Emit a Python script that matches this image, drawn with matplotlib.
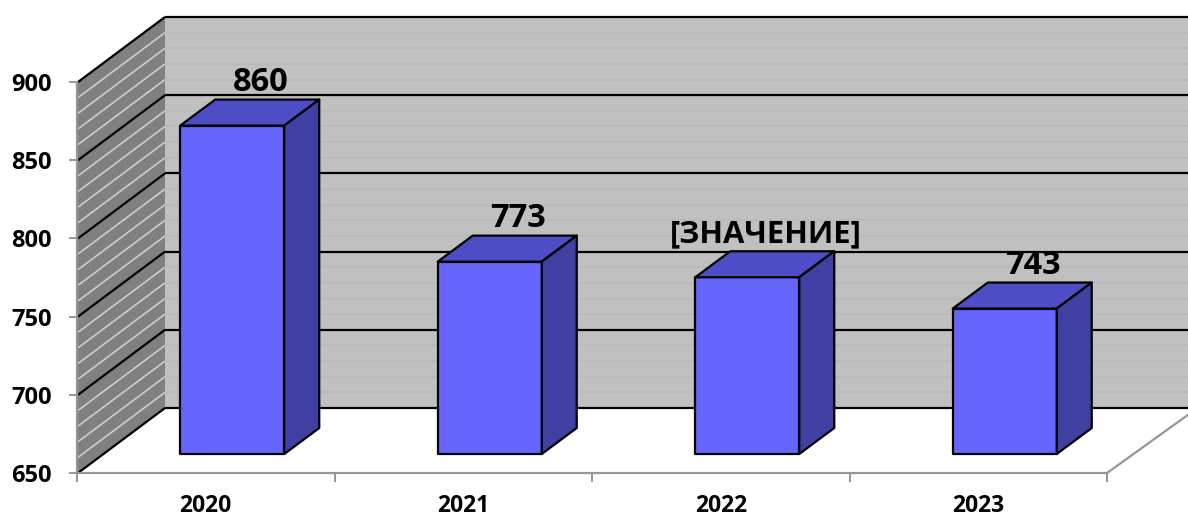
import matplotlib
matplotlib.use("Agg")
import matplotlib.pyplot as plt
from matplotlib.patches import Polygon

plt.rcParams['font.family'] = ['Open Sans', 'DejaVu Sans']

# data
years = ["2020", "2021", "2022", "2023"]
values = [860, 773, 763, 743]
labels = ["860", "773", "[ЗНАЧЕНИЕ]", "743"]
y_ticks = [650, 700, 750, 800, 850, 900]
minor_ticks = [v for v in range(650, 901, 10) if v % 50 != 0]

W, H = 1188, 517
fig = plt.figure(figsize=(W / 100, H / 100), dpi=100)
ax = fig.add_axes([77 / W, 1 - 473 / H, (1107 - 77) / W, (473 - 82) / H])
ax.set_xlim(0, 4)
ax.set_ylim(650, 900)
ax.patch.set_visible(False)

# depth of the walls and bars, in data units
px_x = 4 / (1107 - 77)
px_y = 250 / (473 - 82)
wall_dx, wall_dy = 88 * px_x, 65 * px_y
bar_off_x, bar_off_y = 26.5 * px_x, 19 * px_y
bar_dx, bar_dy = 35 * px_x, 26 * px_y
bar_w = 104 * px_x
right_edge = (W - 77) * px_x + 0.01

ymin, ymax = 650, 900

# back wall
ax.add_patch(Polygon([(wall_dx, ymin + wall_dy), (right_edge, ymin + wall_dy),
                      (right_edge, ymax + wall_dy), (wall_dx, ymax + wall_dy)],
                     fc="#C0C0C0", ec="none", clip_on=False, zorder=1))
# side wall
ax.add_patch(Polygon([(0, ymin), (wall_dx, ymin + wall_dy),
                      (wall_dx, ymax + wall_dy), (0, ymax)],
                     fc="#808080", ec="none", clip_on=False, zorder=1))

for v in minor_ticks:
    ax.plot([wall_dx, right_edge], [v + wall_dy] * 2, color="#B9B9B9", lw=1.2,
            clip_on=False, zorder=2, solid_capstyle="butt")
    ax.plot([0.004, wall_dx], [v, v + wall_dy], color="#CDCDCD", lw=1.2,
            clip_on=False, zorder=2, solid_capstyle="butt")
for v in y_ticks:
    ax.plot([wall_dx, right_edge], [v + wall_dy] * 2, color="black", lw=1.6,
            clip_on=False, zorder=3, solid_capstyle="butt")
    ax.plot([0.004, wall_dx], [v, v + wall_dy], color="black", lw=1.6,
            clip_on=False, zorder=3, solid_capstyle="butt")

# floor edge on the right
ax.plot([4, right_edge], [ymin, ymin + 60 * px_y], color="#969696", lw=1.6,
        clip_on=False, zorder=2)

# bars
for i, (val, lab) in enumerate(zip(values, labels)):
    x0 = i + 0.5 - bar_w / 2 + bar_off_x
    x1 = x0 + bar_w
    y0 = ymin + bar_off_y
    y1 = val + bar_off_y
    style = dict(ec="black", lw=1.6, joinstyle="round", clip_on=False, zorder=5)
    ax.add_patch(Polygon([(x0, y0), (x1, y0), (x1, y1), (x0, y1)], fc="#6666FF", **style))
    ax.add_patch(Polygon([(x0, y1), (x1, y1), (x1 + bar_dx, y1 + bar_dy), (x0 + bar_dx, y1 + bar_dy)],
                         fc="#4D4DC6", **style))
    ax.add_patch(Polygon([(x1, y0), (x1 + bar_dx, y0 + bar_dy), (x1 + bar_dx, y1 + bar_dy), (x1, y1)],
                         fc="#4040A2", **style))
    placeholder = lab.startswith("[")
    shift = 19 if placeholder else 28
    ax.annotate(lab, ((x0 + x1) / 2, y1 + bar_dy), xytext=(shift * 0.72, 17 * 0.72),
                textcoords="offset points", ha="center", va="center",
                fontsize=22.3 if placeholder else 23.5, fontweight="bold",
                color="black", zorder=6, annotation_clip=False)

# axes
for s in ["top", "right"]:
    ax.spines[s].set_visible(False)
for s in ["left", "bottom"]:
    ax.spines[s].set_color("#969696")
    ax.spines[s].set_linewidth(1.6)
    ax.spines[s].set_zorder(4)

ax.set_yticks(y_ticks)
ax.set_yticklabels(y_ticks, fontsize=17, fontweight="bold")
ax.tick_params(axis="y", length=5.5, width=1.4, color="#969696", pad=12.5)
ax.set_xticks([0, 1, 2, 3, 4])
ax.set_xticklabels([])
ax.tick_params(axis="x", length=6.5, width=1.4, color="#969696")
ax.set_xticks([0.5, 1.5, 2.5, 3.5], labels=years, minor=True,
              fontsize=16.5, fontweight="bold")
ax.tick_params(axis="x", which="minor", length=0, pad=15)

fig.savefig("out.png", dpi=100, facecolor="white")
